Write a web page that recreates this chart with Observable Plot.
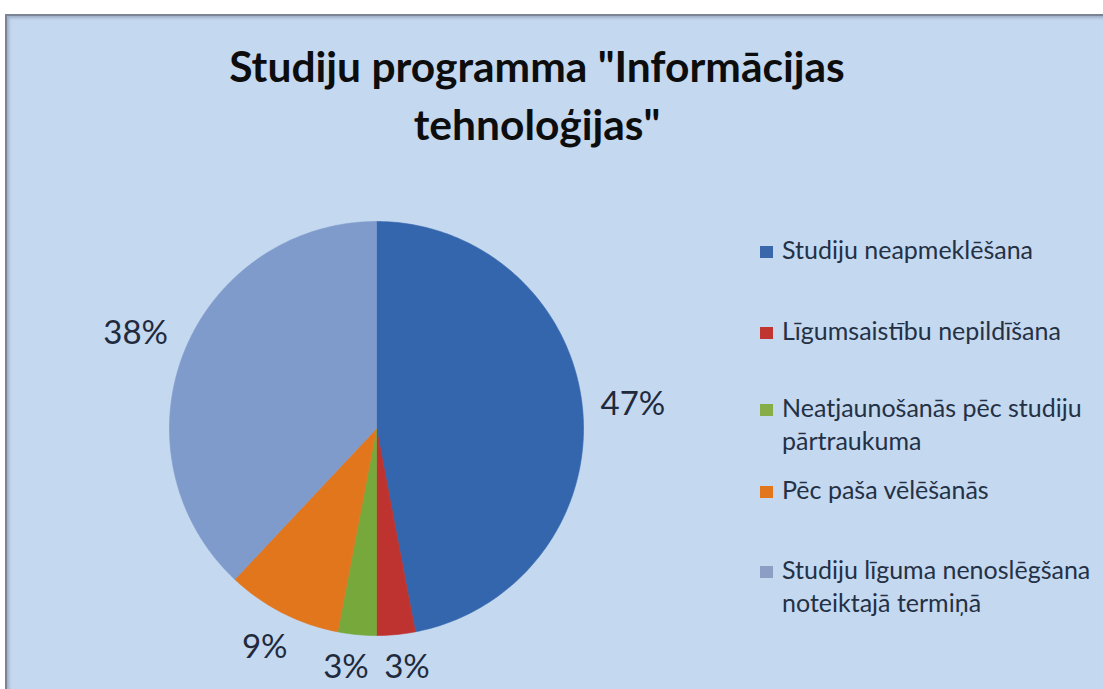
<!DOCTYPE html>
<html><head><meta charset="utf-8">
<script src="https://cdn.jsdelivr.net/npm/d3@7"></script>
<script src="https://cdn.jsdelivr.net/npm/@observablehq/plot@0.6"></script>
<style>
html,body{margin:0;padding:0;background:#fff;}
#page{position:relative;width:1103px;height:689px;overflow:hidden;background:#fff;font-family:Lato,"Open Sans",sans-serif;}
#panel{position:absolute;left:5px;top:14px;width:1120px;height:700px;background:#c4d8f0;border-top:2px solid #7a8494;border-left:2px solid #7a8494;box-shadow:inset 2px 2px 3px rgba(90,100,120,0.35);}
#title{position:absolute;left:137px;width:800px;top:36.5px;text-align:center;font-weight:700;font-size:42.5px;line-height:58px;color:#0d0d0d;}
#chart{position:absolute;left:0;top:170px;}
.item{position:absolute;left:760px;font-size:25px;line-height:33px;color:#243145;}
.sw{position:absolute;left:0;width:13px;height:12px;}
.tx{position:absolute;left:22px;top:0;white-space:nowrap;}
</style>
</head><body>
<div id="page"><div id="panel"></div><div id="title"></div><div id="chart"></div><div id="legend"></div></div>
<script>
// ---- data ----
const causes = ["Studiju neapmeklēšana", "Līgumsaistību nepildīšana", "Neatjaunošanās pēc studiju pārtraukuma", "Pēc paša vēlēšanās", "Studiju līguma nenoslēgšana noteiktajā termiņā"];
const shares = [47, 3, 3, 9, 38];
const legendLines = [["Studiju neapmeklēšana"], ["Līgumsaistību nepildīšana"], ["Neatjaunošanās pēc studiju", "pārtraukuma"], ["Pēc paša vēlēšanās"], ["Studiju līguma nenoslēgšana", "noteiktajā termiņā"]];
const titleLines = ["Studiju programma \"Informācijas", "tehnoloģijas\""];

// ---- styles ----
const colors = ["#3466ad", "#be332f", "#77a83b", "#e2761d", "#7f9bcb"];
const legendColors = ["#3a66aa", "#c0352f", "#86ad47", "#e2761d", "#8d9ec4"];
const R = 207; // pie radius in px
const CX = 376, CY = 258;

// title
const t = document.getElementById("title");
titleLines.forEach(s => { const d = document.createElement("div"); d.textContent = s; t.appendChild(d); });

// pie geometry from data
const table = causes.map((name, i) => ({name, share: shares[i]}));
const arcs = d3.pie().sort(null).value(d => d.share)(table);
const points = [];
for (const a of arcs) {
  const n = Math.max(2, Math.ceil((a.endAngle - a.startAngle) / (Math.PI / 180)));
  points.push({name: a.data.name, x: 0, y: 0});
  for (let k = 0; k <= n; k++) {
    const ang = a.startAngle + (a.endAngle - a.startAngle) * k / n;
    points.push({name: a.data.name, x: Math.sin(ang), y: Math.cos(ang)});
  }
  points.push({name: a.data.name, x: 0, y: 0});
}

// data labels: outside end, then simple horizontal de-overlap
const charW = 21, boxH = 26, gap = 18;
const labels = arcs.map(a => {
  const mid = (a.startAngle + a.endAngle) / 2;
  const txt = a.data.share + "%";
  const w = txt.length * charW;
  const ext = Math.abs(Math.sin(mid)) * w / 2 + Math.abs(Math.cos(mid)) * boxH / 2;
  const rr = R + gap + ext;
  return {text: txt, w, px: rr * Math.sin(mid), py: rr * Math.cos(mid)};
});
for (let iter = 0; iter < 20; iter++) {
  for (let i = 0; i < labels.length; i++) for (let j = i + 1; j < labels.length; j++) {
    const A = labels[i], B = labels[j];
    const needX = (A.w + B.w) / 2 + 19, dx = B.px - A.px;
    if (Math.abs(A.py - B.py) < boxH && Math.abs(dx) < needX) {
      const push = (needX - Math.abs(dx)) / 2 * (dx >= 0 ? 1 : -1);
      A.px -= push; B.px += push;
    }
  }
}
labels.forEach(l => { l.x = l.px / R; l.y = l.py / R; });

const chart = Plot.plot({
  width: 1103, height: 519, margin: 0,
  x: {domain: [-1, 1], range: [CX - R, CX + R], axis: null},
  y: {domain: [-1, 1], range: [CY + R, CY - R], axis: null},
  color: {domain: causes, range: colors},
  style: {background: "transparent", overflow: "visible"},
  marks: [
    Plot.line(points, {x: "x", y: "y", z: "name", fill: "name", stroke: "name", strokeWidth: 0.6, curve: "linear"}),
    Plot.text(labels, {x: "x", y: "y", text: "text", fontSize: 33, fill: "#1f2b3d", fontFamily: "Lato, sans-serif", lineAnchor: "middle", textAnchor: "middle"})
  ]
});
document.getElementById("chart").appendChild(chart);

// legend
const baselines = [259, 340, 417, 499, 579];
const lg = document.getElementById("legend");
legendLines.forEach((lines, i) => {
  const it = document.createElement("div");
  it.className = "item";
  it.style.top = (baselines[i] - 26.2) + "px";
  const sw = document.createElement("div");
  sw.className = "sw"; sw.style.background = legendColors[i]; sw.style.top = "13.2px";
  const tx = document.createElement("div");
  tx.className = "tx"; tx.innerHTML = lines.map(s => s.replace(/&/g, "&amp;")).join("<br>");
  it.appendChild(sw); it.appendChild(tx); lg.appendChild(it);
});
</script>
</body></html>
